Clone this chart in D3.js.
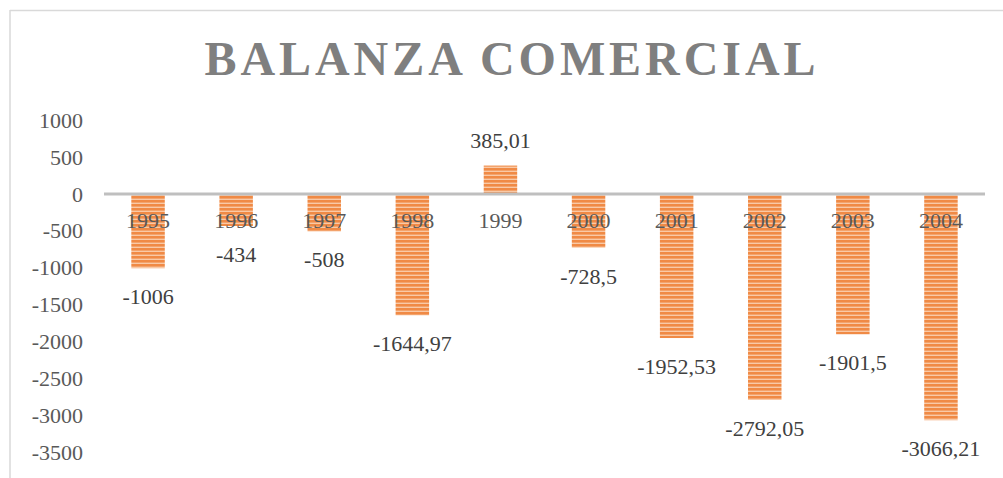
<!DOCTYPE html>
<html>
<head>
<meta charset="utf-8">
<script src="https://cdn.jsdelivr.net/npm/d3@7"></script>
<style>
  body { margin: 0; background: #fff; }
  svg { display: block; font-family: "Liberation Serif", "Times New Roman", serif; }
</style>
</head>
<body>
<svg id="chart" width="1003" height="478"></svg>
<script>
// data
const years = ["1995", "1996", "1997", "1998", "1999", "2000", "2001", "2002", "2003", "2004"];
const balance = [-1006, -434, -508, -1644.97, 385.01, -728.5, -1952.53, -2792.05, -1901.5, -3066.21];
const yTicks = [1000, 500, 0, -500, -1000, -1500, -2000, -2500, -3000, -3500];

const data = years.map((y, i) => ({year: y, value: balance[i]}));

const svg = d3.select("#chart");

// outer chart frame (only top and left visible)
svg.append("line").attr("x1", 10).attr("x2", 1003).attr("y1", 10.5).attr("y2", 10.5)
  .attr("stroke", "#d9d9d9").attr("stroke-width", 1.5);
svg.append("line").attr("x1", 10).attr("x2", 10).attr("y1", 10).attr("y2", 478)
  .attr("stroke", "#d9d9d9").attr("stroke-width", 1.5);

// striped fill
const defs = svg.append("defs");
const pat = defs.append("pattern")
  .attr("id", "stripes")
  .attr("patternUnits", "userSpaceOnUse")
  .attr("width", 8).attr("height", 4);
pat.append("rect").attr("width", 8).attr("height", 4).attr("fill", "#f08a45");
pat.append("rect").attr("y", 2.6).attr("width", 8).attr("height", 1.4).attr("fill", "#f9c9a6");

// title
svg.append("text")
  .attr("x", 510)
  .attr("y", 75)
  .attr("text-anchor", "middle")
  .attr("textLength", 611)
  .attr("lengthAdjust", "spacing")
  .style("font-size", "48px")
  .style("font-weight", "bold")
  .attr("fill", "#7f7f7f")
  .text("BALANZA COMERCIAL");

// scales
const x = d3.scaleBand()
  .domain(years)
  .range([104, 985])
  .paddingInner(0.62)
  .paddingOuter(0.31);

const y = d3.scaleLinear()
  .domain([-3500, 1000])
  .range([452.2, 120.2]);

// y axis labels
const yAxis = d3.axisLeft(y).tickValues(yTicks).tickFormat(d => String(d)).tickSize(0).tickPadding(0);
const gy = svg.append("g")
  .attr("transform", "translate(83,0)")
  .call(yAxis);
gy.select(".domain").remove();
gy.selectAll("text")
  .attr("fill", "#595959")
  .style("font-size", "22px")
  .style("font-family", "Liberation Serif, serif");

// bars
svg.selectAll(".bar")
  .data(data)
  .enter()
  .append("rect")
  .attr("class", "bar")
  .attr("x", d => x(d.year))
  .attr("width", x.bandwidth())
  .attr("y", d => y(Math.max(0, d.value)))
  .attr("height", d => Math.abs(y(d.value) - y(0)))
  .attr("fill", "url(#stripes)");

// zero line
svg.append("line")
  .attr("x1", 104).attr("x2", 985)
  .attr("y1", y(0)).attr("y2", y(0))
  .attr("stroke", "#bfbfbf")
  .attr("stroke-width", 3);

// category labels at the axis
const xAxis = d3.axisBottom(x).tickSize(0).tickPadding(0);
const gx = svg.append("g")
  .attr("transform", `translate(0,${y(0) + 18})`)
  .call(xAxis);
gx.select(".domain").remove();
gx.selectAll("text")
  .attr("fill", "#595959")
  .style("font-size", "22px")
  .style("font-family", "Liberation Serif, serif");

// value labels
const fmt = v => String(v).replace(".", ",");
svg.selectAll(".label")
  .data(data)
  .enter()
  .append("text")
  .attr("class", "label")
  .attr("text-anchor", "middle")
  .attr("x", d => x(d.year) + x.bandwidth() / 2)
  .attr("y", d => d.value >= 0 ? y(d.value) - 18 : y(d.value) + 36)
  .attr("fill", "#404040")
  .style("font-size", "22px")
  .text(d => fmt(d.value));
</script>
</body>
</html>
